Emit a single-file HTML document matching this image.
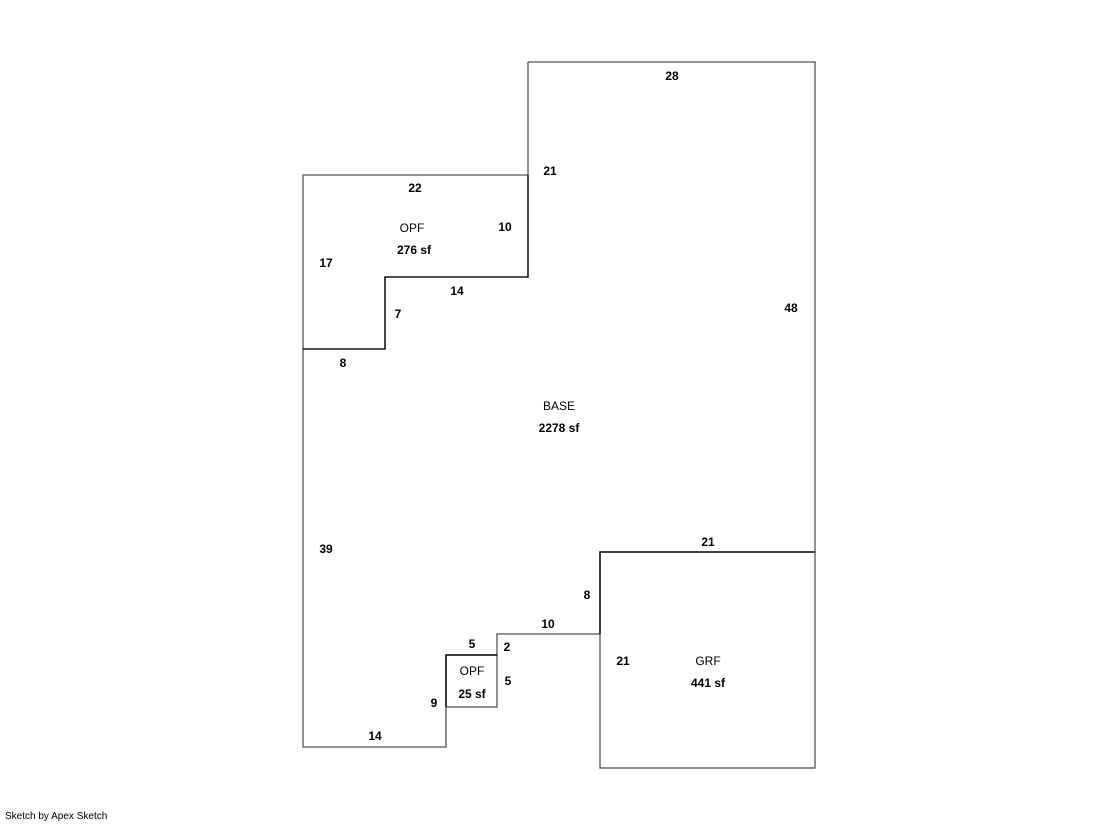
<!DOCTYPE html>
<html><head><style>
body{margin:0;background:#fff;}
svg text{font-family:"Liberation Sans",Arial,sans-serif;font-size:12px;fill:#000;text-anchor:middle;}
.b{font-weight:bold;}
</style></head><body>
<svg width="1119" height="821" xmlns="http://www.w3.org/2000/svg">
<g fill="none" stroke="#555" stroke-width="1.3">
<polyline points="528,62 815,62 815,552 600,552 600,634 497,634 497,655 446,655 446,747 303,747 303,349 385,349 385,277 528,277 528,62"/>
<polyline points="303,349 303,175 528,175"/>
<rect x="446" y="655" width="51" height="52"/>
<rect x="600" y="552" width="215" height="216"/>
</g>
<g fill="none" stroke="#000" stroke-width="1.3">
<polyline points="303,349 385,349 385,277 528,277 528,175"/>
<polyline points="446,707 446,655 497,655"/>
<polyline points="600,634 600,552 815,552"/>
</g>
<text class="b" x="672" y="80">28</text>
<text class="b" x="550" y="175">21</text>
<text class="b" x="415" y="192">22</text>
<text x="412" y="232">OPF</text>
<text class="b" x="414" y="254">276 sf</text>
<text class="b" x="505" y="231">10</text>
<text class="b" x="326" y="267">17</text>
<text class="b" x="457" y="295">14</text>
<text class="b" x="398" y="318">7</text>
<text class="b" x="343" y="367">8</text>
<text class="b" x="791" y="312">48</text>
<text x="559" y="410">BASE</text>
<text class="b" x="559" y="432">2278 sf</text>
<text class="b" x="326" y="553">39</text>
<text class="b" x="708" y="546">21</text>
<text class="b" x="587" y="599">8</text>
<text class="b" x="548" y="628">10</text>
<text class="b" x="472" y="648">5</text>
<text class="b" x="507" y="651">2</text>
<text x="472" y="675">OPF</text>
<text class="b" x="472" y="698">25 sf</text>
<text class="b" x="508" y="685">5</text>
<text class="b" x="434" y="707">9</text>
<text class="b" x="375" y="740">14</text>
<text class="b" x="623" y="665">21</text>
<text x="708" y="665">GRF</text>
<text class="b" x="708" y="687">441 sf</text>
<text x="5" y="819" style="font-size:10px;text-anchor:start">Sketch by Apex Sketch</text>
</svg>
</body></html>
